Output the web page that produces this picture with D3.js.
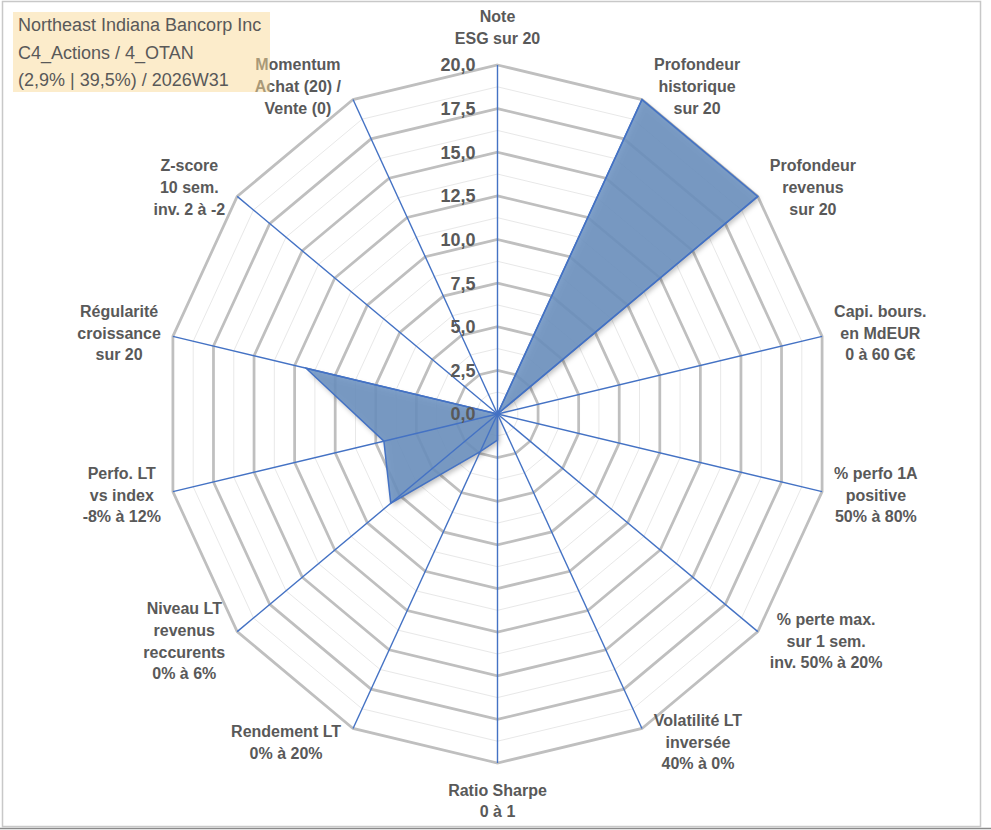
<!DOCTYPE html>
<html>
<head>
<meta charset="utf-8">
<script src="https://cdn.jsdelivr.net/npm/d3@7/dist/d3.min.js"></script>
<style>
  html, body { margin: 0; padding: 0; background: #ffffff; }
  svg { display: block; }
</style>
</head>
<body>
<svg id="chart" width="991" height="830"></svg>
<script>
// ---------- DATA ----------
const categories = [
  ["Note", "ESG sur 20"],
  ["Profondeur", "historique", "sur 20"],
  ["Profondeur", "revenus", "sur 20"],
  ["Capi. bours.", "en MdEUR", "0 à 60 G€"],
  ["% perfo 1A", "positive", "50% à 80%"],
  ["% perte max.", "sur 1 sem.", "inv. 50% à 20%"],
  ["Volatilité LT", "inversée", "40% à 0%"],
  ["Ratio Sharpe", "0 à 1"],
  ["Rendement LT", "0% à 20%"],
  ["Niveau LT", "revenus", "reccurents", "0% à 6%"],
  ["Perfo. LT", "vs index", "-8% à 12%"],
  ["Régularité", "croissance", "sur 20"],
  ["Z-score", "10 sem.", "inv. 2 à -2"],
  ["Momentum", "Achat (20) /", "Vente (0)"]
];
const values = [0, 20, 20, 0, 0, 0, 0, 1.5, 2.4, 8.2, 7.0, 11.8, 0, 0];
const tickValues = [0, 2.5, 5, 7.5, 10, 12.5, 15, 17.5, 20];
const minorTickValues = [1.25, 3.75, 6.25, 8.75, 11.25, 13.75, 16.25, 18.75];
const titleLines = ["Northeast Indiana Bancorp Inc", "C4_Actions / 4_OTAN", "(2,9% | 39,5%) / 2026W31"];

// ---------- LAYOUT ----------
const W = 991, H = 830;
const cx = 497.5, cy = 414;
const kx = 0.954;              // horizontal squash of the original picture
const textColor = "#595959";
const n = categories.length;

const svg = d3.select("#chart");

const r = d3.scaleLinear().domain([0, 20]).range([0, 349]);
const angle = d3.scaleLinear().domain([0, n]).range([0, 2 * Math.PI]);

function px(i, v) { return cx + r(v) * Math.sin(angle(i)) * kx; }
function py(i, v) { return cy - r(v) * Math.cos(angle(i)); }

// frame
svg.append("rect").attr("x", 0).attr("y", 0).attr("width", W).attr("height", H).attr("fill", "#ffffff");
svg.append("rect").attr("x", 2.5).attr("y", 1.5).attr("width", 978).attr("height", 825)
  .attr("fill", "none").attr("stroke", "#c8c8c8").attr("stroke-width", 1.5);
svg.append("line").attr("x1", 0).attr("x2", W).attr("y1", 828.5).attr("y2", 828.5)
  .attr("stroke", "#8a8a8a").attr("stroke-width", 1.5);

const ringLine = d3.line().curve(d3.curveLinearClosed);
const idx = d3.range(n);

// minor grid
svg.append("g").selectAll("path").data(minorTickValues).join("path")
  .attr("d", v => ringLine(idx.map(i => [px(i, v), py(i, v)])))
  .attr("fill", "none").attr("stroke", "#e8e8e8").attr("stroke-width", 1);

// major grid
svg.append("g").selectAll("path").data(tickValues.filter(v => v > 0)).join("path")
  .attr("d", v => ringLine(idx.map(i => [px(i, v), py(i, v)])))
  .attr("fill", "none").attr("stroke", "#bfbfbf").attr("stroke-width", 2.75)
  .attr("stroke-linejoin", "miter");

// shadow filter
const defs = svg.append("defs");
const f = defs.append("filter").attr("id", "blur").attr("x", "-20%").attr("y", "-20%")
  .attr("width", "140%").attr("height", "140%");
f.append("feGaussianBlur").attr("stdDeviation", 2.5);

const areaD = ringLine(values.map((v, i) => [px(i, v), py(i, v)]));

// shadow under the data area
svg.append("path")
  .attr("d", areaD)
  .attr("transform", "translate(2,3)")
  .attr("fill", "#000").attr("fill-opacity", 0.25)
  .attr("filter", "url(#blur)");

// data area
svg.append("path")
  .attr("d", areaD)
  .attr("fill", "#6d93c2").attr("fill-opacity", 0.88)
  .attr("stroke", "#4472c4").attr("stroke-width", 1.5);

// axes spokes
svg.append("g").selectAll("line").data(idx).join("line")
  .attr("x1", cx).attr("y1", cy)
  .attr("x2", i => px(i, 20)).attr("y2", i => py(i, 20))
  .attr("stroke", "#4472c4").attr("stroke-width", 1.4);

// tick labels
const fmt = v => d3.format(".1f")(v).replace(".", ",");
svg.append("g").selectAll("text").data(tickValues).join("text")
  .attr("x", cx - 22).attr("y", v => cy - r(v))
  .attr("dy", "0.36em")
  .attr("text-anchor", "end")
  .attr("font-family", "Liberation Sans, Arial, sans-serif")
  .attr("font-weight", "bold").attr("font-size", 18)
  .attr("fill", textColor)
  .text(fmt);

// category labels
const lh = 21.7;
const lblG = svg.append("g");
categories.forEach((lines, i) => {
  const a = angle(i);
  const s = Math.sin(a), c = Math.cos(a);
  const x0 = px(i, 20), y0 = py(i, 20);
  const t = lblG.append("text")
    .attr("font-family", "Liberation Sans, Arial, sans-serif")
    .attr("font-weight", "bold").attr("font-size", 16)
    .attr("fill", textColor)
    .attr("text-anchor", "middle");
  const spans = lines.map(l => t.append("tspan").text(l));
  const w = d3.max(spans, sp => sp.node().getComputedTextLength());
  const h = lines.length * lh;
  let lx, ly;
  if (Math.abs(s) < 0.01) {
    lx = x0;
    ly = y0 - Math.sign(c) * (h / 2 + 16);
  } else {
    lx = x0 + Math.sign(s) * (w / 2 + 12);
    ly = y0 - c * 15;
  }
  spans.forEach((sp, k) => {
    sp.attr("x", lx).attr("y", ly + (k - (lines.length - 1) / 2) * lh).attr("dy", "0.36em");
  });
});

// title box
svg.append("rect").attr("x", 13).attr("y", 12).attr("width", 257).attr("height", 80)
  .attr("fill", "#f9d997").attr("fill-opacity", 0.5);
svg.append("g").selectAll("text").data(titleLines).join("text")
  .attr("x", 18).attr("y", (d, k) => 25 + k * 27.5)
  .attr("dy", "0.36em")
  .attr("font-family", "Liberation Sans, Arial, sans-serif")
  .attr("font-size", 18)
  .attr("fill", textColor)
  .text(d => d);
</script>
</body>
</html>
